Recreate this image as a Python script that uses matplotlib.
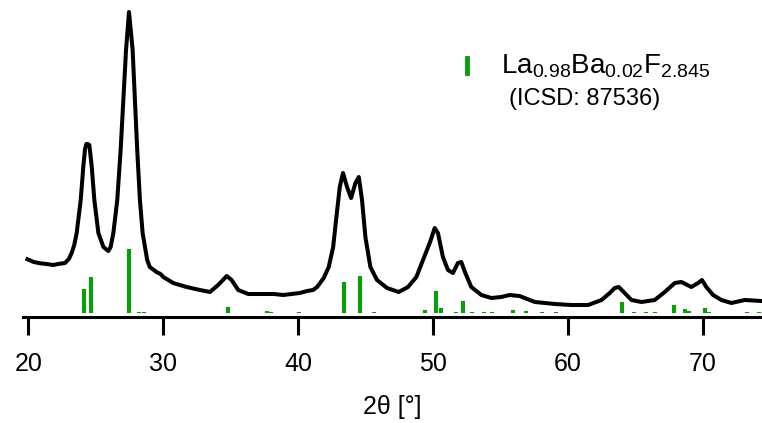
import matplotlib
matplotlib.use("Agg")
import matplotlib.pyplot as plt
from matplotlib.lines import Line2D

plt.rcParams['font.family'] = ['Liberation Sans', 'DejaVu Sans']
plt.rcParams['mathtext.default'] = 'regular'

# XRD pattern (2theta in degrees, intensity in arbitrary units)
two_theta = [19.93, 20.4, 20.87, 21.35, 21.85, 22.2, 22.72, 23.0, 23.21, 23.4, 23.58, 23.88, 24.07,
             24.2, 24.3, 24.4, 24.52, 24.7, 24.89, 25.19, 25.56, 25.93, 26.1, 26.3, 26.59, 26.84,
             27.04, 27.24, 27.46, 27.73, 27.9, 28.07, 28.27, 28.47, 28.81, 29.0, 29.5, 29.8,
             30.0, 30.74, 31.73, 32.72, 33.46, 34.07, 34.5, 34.7, 35.07, 35.56, 36.3, 37.66, 38.2,
             38.89, 40.13, 40.67, 41.11, 41.41, 41.9, 42.27, 42.6, 42.84, 43.09, 43.33, 43.63,
             43.93, 44.25, 44.5, 44.74, 44.99, 45.36, 45.85, 46.59, 47.46, 48.15, 48.77, 49.26,
             49.76, 50.13, 50.37, 50.74, 51.11, 51.48, 51.85, 52.1, 52.4, 52.84, 53.59, 54.33,
             55.07, 55.68, 56.42, 57.56, 59.04, 60.27, 61.51, 62.5, 63.11, 63.48, 63.78, 64.22,
             64.72, 65.46, 66.44, 67.19, 67.93, 68.42, 69.16, 69.66, 69.95, 70.27, 70.77, 71.39,
             72.13, 73.11, 74.35]
intensity = [57.7, 55, 53.7, 53, 52, 53, 54, 58, 64, 72, 84, 117, 150,
             168, 173, 173, 172, 150, 117, 84, 70, 66, 70, 84, 117, 167,
             217, 267, 305, 267, 217, 167, 117, 84, 57, 50, 45, 43,
             40, 34, 30, 27, 25, 32, 38, 41, 37, 27, 23, 23, 23,
             22, 24, 26, 27, 30, 39, 50, 70, 100, 130, 144, 130,
             119, 134, 140, 117, 80, 50, 37, 29, 25, 30, 40, 57,
             74, 89, 84, 60, 47, 44, 54, 55, 44, 30, 22, 19,
             20, 22, 21, 15, 13, 12, 12, 17, 24, 29, 30, 24,
             17, 15, 17, 25, 34, 35, 30, 34, 37, 30, 22, 17,
             14, 17, 16]

# Reference pattern La0.98Ba0.02F2.845 (ICSD 87536): positions and relative heights
ref_pos = [24.13, 24.67, 27.48, 28.2, 28.6, 34.77, 37.7, 38.0, 40.1, 43.43, 44.62, 45.6,
           49.44, 50.25, 50.6, 51.7, 52.2, 52.9, 53.8, 54.4, 55.93, 56.87, 58.05, 59.1,
           64.03, 64.9, 65.8, 66.5, 67.85, 68.67, 69.0, 70.2, 70.5, 73.3, 74.2]
ref_height = [24, 36, 64, 1, 1, 5.5, 1.5, 1, 1, 31, 36.5, 1,
              3, 21.5, 5, 1, 11.5, 1, 1, 1, 2.5, 1.5, 1, 1,
              11, 1, 1, 1, 7.5, 4, 1.5, 5, 1, 1, 1]

legend_label = r'La$_{0.98}$Ba$_{0.02}$F$_{2.845}$'
legend_sub = '(ICSD: 87536)'
xticks = [20, 30, 40, 50, 60, 70]
green = '#0f9a0f'

fig = plt.figure(figsize=(7.62, 4.23), dpi=100)
ax = fig.add_axes([23 / 762, 1 - 317 / 423, 1 - 23 / 762, 317 / 423])

stick_base = 4.5
ax.vlines(ref_pos, stick_base, [stick_base + h for h in ref_height], colors=green, linewidth=3.0)
ax.plot(two_theta, intensity, color='black', linewidth=2.9, solid_joinstyle='round')

ax.set_xlim(19.6, 74.4)
ax.set_ylim(0, 317)
for s in ['top', 'right', 'left']:
    ax.spines[s].set_visible(False)
ax.spines['bottom'].set_linewidth(2.2)
ax.set_yticks([])
ax.set_xticks(xticks)
ax.tick_params(axis='x', direction='out', length=13, width=2.2, labelsize=18, pad=12)
ax.set_xlabel('2θ [°]', fontsize=18, labelpad=14)

# legend
ax.add_line(Line2D([0.601, 0.601], [0.77, 0.817], transform=ax.transAxes,
                   color=green, linewidth=3.5))
fig.text(501 / 762, 1 - 73 / 423, legend_label, fontsize=20, ha='left', va='baseline')
fig.text(509 / 762, 1 - 105 / 423, legend_sub, fontsize=17, ha='left', va='baseline')

fig.savefig('out.png', dpi=100)
